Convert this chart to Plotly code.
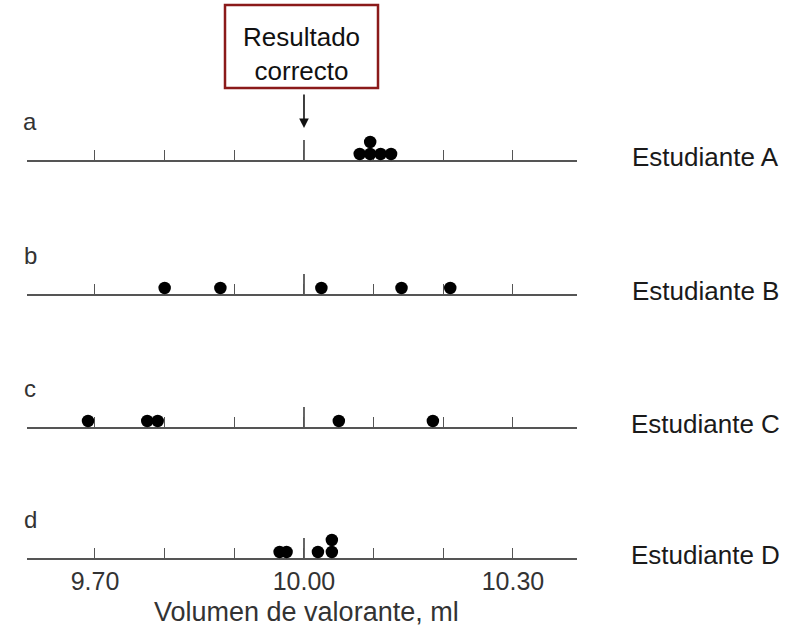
import plotly.graph_objects as go
from plotly.subplots import make_subplots

# ---- data ----
students = ["Estudiante A", "Estudiante B", "Estudiante C", "Estudiante D"]
letters = ["a", "b", "c", "d"]
vol_A = [10.08, 10.095, 10.095, 10.11, 10.125]
vol_B = [9.80, 9.88, 10.025, 10.14, 10.21]
vol_C = [9.69, 9.775, 9.79, 10.05, 10.185]
vol_D = [9.965, 9.975, 10.02, 10.04, 10.04]
series = [vol_A, vol_B, vol_C, vol_D]
correct = 10.00
tick_vals = [9.70, 9.80, 9.90, 10.00, 10.10, 10.20, 10.30]
tick_text = ["9.70", "", "", "10.00", "", "", "10.30"]
x_title = "Volumen de valorante, ml"
box_text = "Resultado<br>correcto"

# ---- layout constants ----
W, H = 794, 633
baselines = [160, 294, 427, 558]   # px from top
sub_h = 48                          # px
x_range = [9.6024, 10.3919]
x_dom = [27 / W, 577 / W]
line_col = "#555555"
txt_col = "#1a1a1a"
FONT = "Liberation Sans, Arial, sans-serif"

fig = make_subplots(rows=4, cols=1)

for i, vals in enumerate(series):
    # stack repeated values
    levels = []
    seen = {}
    for v in vals:
        k = round(v, 4)
        levels.append(seen.get(k, 0))
        seen[k] = seen.get(k, 0) + 1
    fig.add_trace(go.Scatter(
        x=vals, y=[l + 0.5 for l in levels], mode="markers",
        marker=dict(size=12.5, color="#000000"),
        showlegend=False, hoverinfo="x", cliponaxis=False),
        row=i + 1, col=1)

for i in range(4):
    n = "" if i == 0 else str(i + 1)
    y0 = 1 - baselines[i] / H
    fig.layout["xaxis" + n].update(
        domain=x_dom, range=x_range, showgrid=False, zeroline=False,
        showline=True, linecolor=line_col, linewidth=2.2,
        ticks="inside", ticklen=10, tickwidth=1.4, tickcolor=line_col,
        tickvals=tick_vals, ticktext=tick_text,
        showticklabels=(i == 3), layer="below traces",
        tickfont=dict(family=FONT, size=25, color="#333333"),
        anchor="y" + n, fixedrange=True)
    fig.layout["yaxis" + n].update(
        domain=[y0, y0 + sub_h / H], range=[0, 4], visible=False,
        fixedrange=True)
    # taller tick at the correct result
    fig.add_shape(type="line", xref="x" + n, yref="y" + n + " domain",
                  x0=correct, x1=correct, y0=0, y1=20 / sub_h,
                  line=dict(color=line_col, width=1.8))
    # row letter
    fig.add_annotation(text=letters[i], xref="paper", yref="paper",
                       x=30 / W, y=1 - (baselines[i] - 39) / H,
                       showarrow=False, xanchor="center", yanchor="middle",
                       font=dict(family=FONT, size=24, color="#333333"))
    # student label
    fig.add_annotation(text=students[i], xref="paper", yref="paper",
                       x=705 / W, y=1 - (baselines[i] - 3) / H,
                       showarrow=False, xanchor="center", yanchor="middle",
                       font=dict(family=FONT, size=26, color=txt_col))

# axis title
fig.add_annotation(text=x_title, xref="paper", yref="paper",
                   x=306 / W, y=1 - 612 / H, showarrow=False,
                   xanchor="center", yanchor="middle",
                   font=dict(family=FONT, size=27, color="#333333"))

# "Resultado correcto" box
fig.add_shape(type="rect", xref="paper", yref="paper",
              x0=225 / W, x1=378 / W, y0=1 - 88 / H, y1=1 - 5 / H,
              line=dict(color="#8B1A1A", width=2.5), fillcolor="white")
fig.add_annotation(text=box_text, xref="paper", yref="paper",
                   x=301 / W, y=1 - 54 / H, showarrow=False,
                   xanchor="center", yanchor="middle",
                   font=dict(family=FONT, size=26, color="#111111"))
# arrow to correct value
fig.add_annotation(x=correct, xref="x", y=1 - 128 / H, yref="paper",
                   ax=0, ay=-35, text="", showarrow=True,
                   arrowhead=2, arrowsize=1.2, arrowwidth=1.6,
                   arrowcolor="#111111")

fig.update_layout(width=W, height=H, margin=dict(l=0, r=0, t=0, b=0),
                  paper_bgcolor="white", plot_bgcolor="rgba(0,0,0,0)",
                  showlegend=False)

fig.write_html("out.html")
